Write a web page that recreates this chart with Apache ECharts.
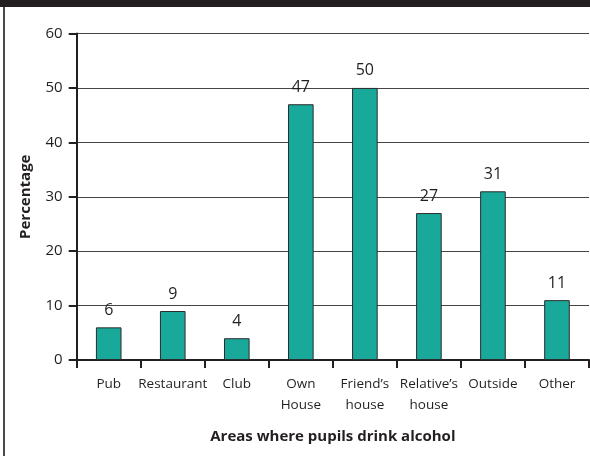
<!DOCTYPE html>
<html>
<head>
<meta charset="utf-8">
<script src="https://cdn.jsdelivr.net/npm/echarts@6/dist/echarts.min.js"></script>
<style>
  html, body { margin: 0; padding: 0; background: #fff; }
  #chart { width: 590px; height: 456px; }
</style>
</head>
<body>
<div id="chart"></div>
<script>
// Where pupils drink alcohol (percentage of respondents)
const categories = ['Pub', 'Restaurant', 'Club', 'Own\nHouse', 'Friend\u2019s\nhouse', 'Relative\u2019s\nhouse', 'Outside', 'Other'];
const percentages = [6, 9, 4, 47, 50, 27, 31, 11];
const yTicks = [0, 10, 20, 30, 40, 50, 60];
const xTitle = 'Areas where pupils drink alcohol';
const yTitle = 'Percentage';

const ink = '#231f20';
const font = '"Open Sans", "Noto Sans", sans-serif';

const chart = echarts.init(document.getElementById('chart'), null, { renderer: 'canvas' });
chart.setOption({
  animation: false,
  backgroundColor: '#fff',
  graphic: [
    { type: 'rect', left: 0, top: 0, shape: { width: 590, height: 7 }, style: { fill: ink } },
    { type: 'rect', left: 3, top: 7, shape: { width: 2, height: 449 }, style: { fill: '#4a4a4a' } }
  ],
  grid: { left: 76.7, right: 1, top: 33.5, bottom: 96 },
  xAxis: {
    type: 'category',
    data: categories,
    name: xTitle,
    nameLocation: 'middle',
    nameGap: 69,
    nameTextStyle: { fontFamily: font, fontWeight: 'bold', fontSize: 15, color: ink },
    axisLine: { lineStyle: { color: ink, width: 2 } },
    axisTick: { show: true, length: 8, lineStyle: { color: ink, width: 2 } },
    axisLabel: { fontFamily: font, fontSize: 13.5, color: ink, margin: 14, lineHeight: 21, interval: 0 }
  },
  yAxis: {
    type: 'value',
    min: yTicks[0],
    max: yTicks[yTicks.length - 1],
    interval: yTicks[1] - yTicks[0],
    name: yTitle,
    nameLocation: 'middle',
    nameGap: 43,
    nameRotate: 90,
    nameTextStyle: { fontFamily: font, fontWeight: 'bold', fontSize: 15, color: ink },
    axisLine: { show: true, lineStyle: { color: ink, width: 2 } },
    axisTick: { show: true, length: 8, lineStyle: { color: ink, width: 2 } },
    axisLabel: { fontFamily: font, fontSize: 15, color: ink, margin: 14 },
    splitLine: { show: true, lineStyle: { color: '#444', width: 1.2 } }
  },
  series: [{
    type: 'bar',
    data: percentages,
    barWidth: '40%',
    itemStyle: { color: '#18a99b', borderColor: '#2b2b2b', borderWidth: 1 },
    label: {
      show: true,
      position: 'top',
      distance: 9,
      fontFamily: font,
      fontSize: 16,
      color: ink
    }
  }]
});
</script>
</body>
</html>
